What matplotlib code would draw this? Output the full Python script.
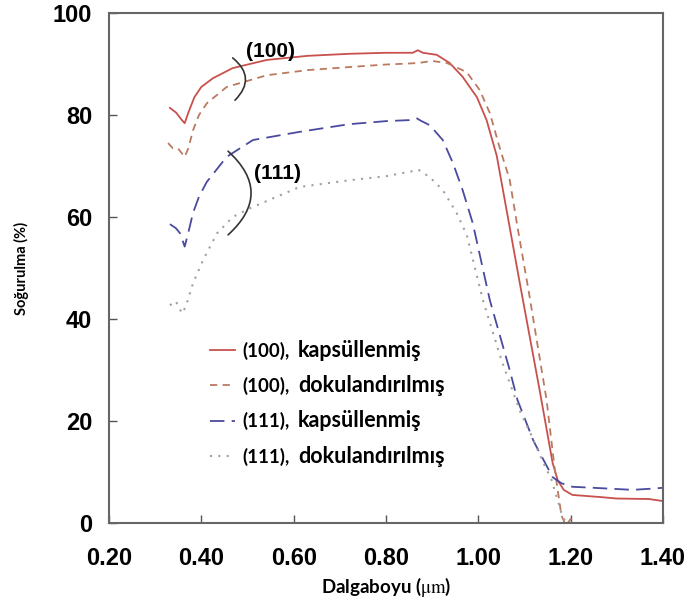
import matplotlib.pyplot as plt
from matplotlib.transforms import IdentityTransform

plt.rcParams['mathtext.fontset'] = 'stix'

# (100), kapsullenmis - kirmizi duz cizgi
x_100k = [0.332, 0.345, 0.358, 0.364, 0.372, 0.385, 0.400, 0.425, 0.468, 0.542, 0.63, 0.72, 0.80,
          0.858, 0.869, 0.88, 0.91, 0.938, 0.966, 0.997, 1.018, 1.040, 1.060, 1.09, 1.133,
          1.161, 1.172, 1.185, 1.204, 1.263, 1.30, 1.37, 1.40]
y_100k = [81.4, 80.5, 79.0, 78.4, 80.5, 83.5, 85.5, 87.2, 89.2, 90.8, 91.6, 92.0, 92.2,
          92.2, 92.7, 92.2, 91.8, 90.2, 87.5, 83.5, 79.0, 72.0, 62.0, 47.0, 26.0,
          11.8, 8.4, 6.5, 5.5, 5.1, 4.8, 4.7, 4.3]

# (100), dokulandirilmis - kirmizi kesikli
x_100d = [0.328, 0.338, 0.349, 0.364, 0.372, 0.382, 0.395, 0.412, 0.455, 0.542, 0.63, 0.72, 0.80,
          0.85, 0.87, 0.90, 0.932, 0.975, 1.003, 1.025, 1.046, 1.068, 1.085, 1.11, 1.148,
          1.165, 1.172, 1.18, 1.19, 1.20, 1.21, 1.225]
y_100d = [74.5, 73.5, 73.5, 71.8, 73.5, 77.0, 80.0, 82.3, 85.5, 87.8, 88.8, 89.4, 89.9,
          90.1, 90.2, 90.6, 90.2, 88.4, 84.9, 80.4, 73.7, 67.3, 58.0, 45.0, 24.1,
          11.0, 6.5, 1.5, -0.5, 0.8, 0.2, -0.5]

# (111), kapsullenmis - mavi kesikli
x_111k = [0.332, 0.345, 0.354, 0.364, 0.372, 0.382, 0.395, 0.412, 0.455, 0.512, 0.613, 0.72, 0.80,
          0.85, 0.866, 0.875, 0.895, 0.923, 0.945, 0.966, 0.988, 1.025, 1.068, 1.085, 1.12,
          1.161, 1.18, 1.204, 1.25, 1.334, 1.37, 1.40]
y_111k = [58.6, 57.8, 56.8, 54.2, 57.0, 60.8, 64.0, 66.9, 71.8, 75.1, 76.7, 78.2, 78.8,
          79.0, 79.4, 78.9, 78.0, 75.1, 70.6, 65.3, 58.8, 43.7, 30.0, 24.1, 16.0,
          9.0, 7.8, 7.1, 6.9, 6.5, 6.7, 6.9]

# (111), dokulandirilmis - gri noktali
x_111d = [0.332, 0.345, 0.352, 0.360, 0.370, 0.382, 0.404, 0.434, 0.468, 0.505, 0.613, 0.72, 0.80,
          0.858, 0.87, 0.895, 0.923, 0.953, 0.975, 1.01, 1.05, 1.09, 1.116, 1.14, 1.159,
          1.18, 1.19]
y_111d = [42.7, 43.5, 42.0, 41.1, 43.5, 47.0, 51.6, 56.8, 60.0, 61.7, 65.9, 67.2, 68.0,
          69.0, 69.3, 67.8, 65.3, 60.8, 56.5, 43.7, 32.0, 22.0, 17.0, 12.0, 8.4,
          2.0, 0.0]

xticks = [0.20, 0.40, 0.60, 0.80, 1.00, 1.20, 1.40]
yticks = [0, 20, 40, 60, 80, 100]

leg_num = ['(100),', '(100),', '(111),', '(111),']
leg_word = ['kapsüllenmiş', 'dokulandırılmış', 'kapsüllenmiş', 'dokulandırılmış']

# parantez yaylari: (ust, alt) uclari
arc_100 = [(0.468, 91.2), (0.473, 82.9)]
arc_111 = [(0.458, 72.9), (0.458, 56.5)]

fig = plt.figure(figsize=(6.92, 6.08), dpi=100)
ax = fig.add_axes([0.1575, 0.1398, 0.8005, 0.8388])

ax.plot(x_100k, y_100k, color='#c8504d', lw=1.3, label=leg_num[0])
ax.plot(x_100d, y_100d, color='#bb7a60', lw=1.3, dashes=(4, 3), label=leg_num[1])
ax.plot(x_111k, y_111k, color='#4a4a9e', lw=1.3, dashes=(8, 4), label=leg_num[2])
ax.plot(x_111d, y_111d, color='#a0a0a0', lw=1.5, dashes=(1, 3), label=leg_num[3])

for top, bot in [arc_100, arc_111]:
    ax.annotate('', xy=bot, xytext=top,
                arrowprops=dict(arrowstyle='-', color='#333333', lw=1.2,
                                connectionstyle='arc3,rad=-0.55', shrinkA=0, shrinkB=0))

ax.text(0.549, 92.4, '(100)', fontsize=15, fontweight='bold', family='Liberation Sans',
        ha='center', va='center')
ax.text(0.566, 68.6, '(111)', fontsize=15, fontweight='bold', family='Liberation Sans',
        ha='center', va='center')

ax.set_xlim(0.2, 1.4)
ax.set_ylim(0, 100)
ax.set_xticks(xticks)
ax.set_xticklabels(['%.2f' % v for v in xticks])
ax.set_yticks(yticks)
for lab in ax.get_xticklabels() + ax.get_yticklabels():
    lab.set_family('Liberation Sans')
    lab.set_fontweight('bold')
    lab.set_fontsize(17)
ax.tick_params(axis='x', direction='in', length=6, width=1, color='#555555', pad=17)
ax.tick_params(axis='y', direction='in', length=6, width=1, color='#555555', pad=12)
for s in ax.spines.values():
    s.set_color('#666666')
    s.set_linewidth(1.5)

ax.set_xlabel(r'Dalgaboyu ($\mathrm{\mu m}$)', fontsize=13.5, fontweight='bold',
              family='Lato', labelpad=4)
ax.set_ylabel('Soğurulma (%)', fontsize=10.5, fontweight='bold', family='Lato', labelpad=17)

leg = ax.legend(loc='upper left', bbox_to_anchor=(0.182, 0.356), frameon=False,
                prop={'family': 'Lato', 'weight': 'bold', 'size': 13.5},
                handlelength=1.33, handletextpad=0.43, labelspacing=0.92,
                borderpad=0, borderaxespad=0)

# legend metninin ikinci kismi daha buyuk yazi ile
fig.canvas.draw()
r = fig.canvas.get_renderer()
for t, w in zip(leg.get_texts(), leg_word):
    bb = t.get_window_extent(r)
    fp = t.get_fontproperties()
    d1 = r.get_text_width_height_descent('lp', fp, ismath=False)[2]
    d2 = r.get_text_width_height_descent(t.get_text(), fp, ismath=False)[2]
    base = bb.y0 + max(d1, d2)
    fig.text(bb.x1 + 8, base, w, transform=IdentityTransform(), family='Lato',
             fontweight='bold', fontsize=15.5, va='baseline', ha='left')

fig.savefig('out.png', dpi=100)
